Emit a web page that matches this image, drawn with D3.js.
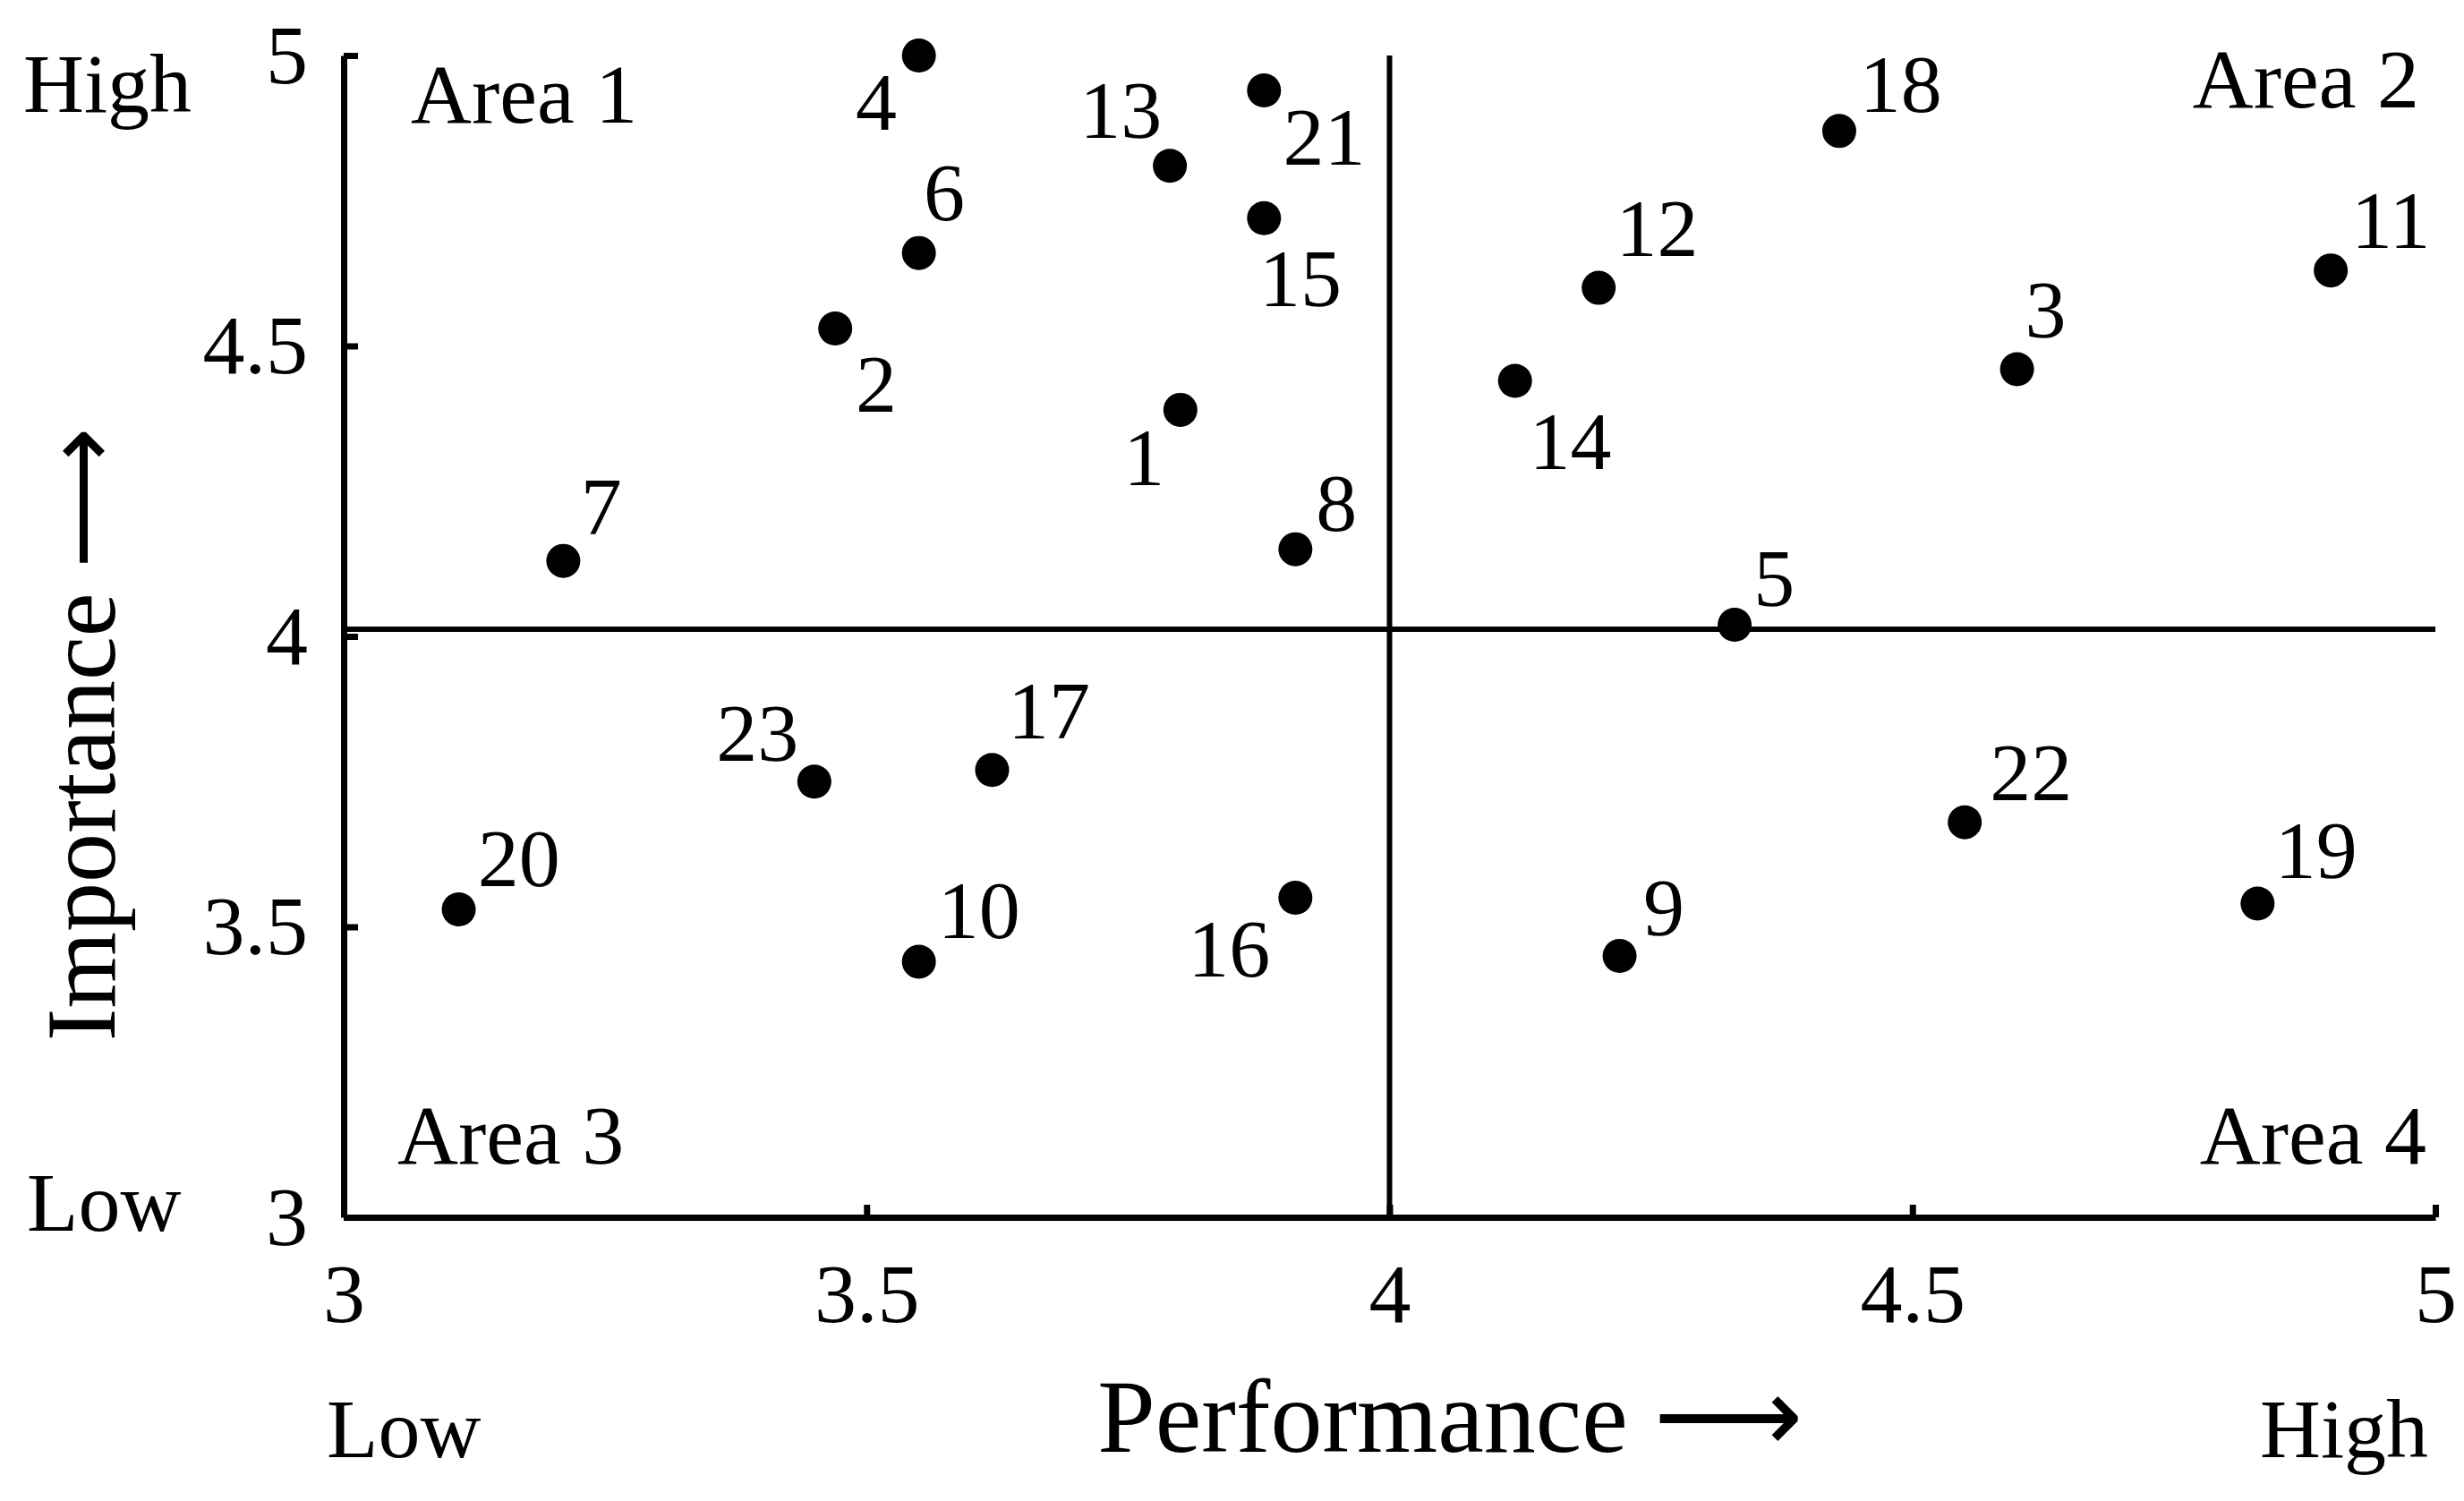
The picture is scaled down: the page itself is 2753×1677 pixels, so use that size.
<!DOCTYPE html>
<html lang="en">
<head>
<meta charset="utf-8">
<title>Importance-Performance</title>
<style>
  body { margin: 0; background: white; }
  svg text { font-family: "Liberation Serif", "Times New Roman", serif; fill: black; }
  .axis path, .axis line { stroke: black; stroke-width: 7; }
  .axis text { font-size: 94px; }
</style>
</head>
<body>
<script src="https://cdnjs.cloudflare.com/ajax/libs/d3/7.8.5/d3.min.js"></script>
<script>
// data
var ids         = ["1","2","3","4","5","6","7","8","9","10","11","12","13","14","15","16","17","18","19","20","21","22","23"];
var performance = [3.80,3.47,4.60,3.55,4.33,3.55,3.21,3.91,4.22,3.55,4.90,4.20,3.79,4.12,3.88,3.91,3.62,4.43,4.83,3.11,3.88,4.55,3.45];
var importance  = [4.39,4.53,4.46,5.00,4.02,4.66,4.13,4.15,3.45,3.44,4.63,4.60,4.81,4.44,4.72,3.55,3.77,4.87,3.54,3.53,4.94,3.68,3.75];
var xTicks = [3, 3.5, 4, 4.5, 5];
var yTicks = [3, 3.5, 4, 4.5, 5];
var areaNames = ["Area 1", "Area 2", "Area 3", "Area 4"];

// label placement (dx, dy, anchor) in reference units
var labelPlace = {
  "1":[-10,48,"end"], "2":[13,53,"start"], "3":[5,-20,"start"], "4":[-14,47,"end"],
  "5":[12,-12,"start"], "6":[3,-21,"start"], "7":[11,-17,"start"], "8":[13,-12,"start"],
  "9":[15,-13,"start"], "10":[12,-15,"start"], "11":[13,-14,"start"], "12":[11,-20,"start"],
  "13":[-5,-18,"end"], "14":[9,56,"start"], "15":[-3,56,"start"], "16":[-16,50,"end"],
  "17":[10,-20,"start"], "18":[13,-12,"start"], "19":[11,-16,"start"], "20":[12,-15,"start"],
  "21":[12,47,"start"], "22":[16,-14,"start"], "23":[-10,-13,"end"]
};

var k = 1.761;
var fullwidth = 2753, fullheight = 1677;
var margin = { top: 62, right: 32, bottom: 317, left: 384 };
var width = fullwidth - margin.left - margin.right;
var height = fullheight - margin.top - margin.bottom;

var svg = d3.select("body").append("svg")
    .attr("width", fullwidth).attr("height", fullheight)
  .append("g")
    .attr("transform", "translate(" + margin.left + "," + margin.top + ")");

var xScale = d3.scaleLinear().domain([3, 5]).range([0, width]);
var yScale = d3.scaleLinear().domain([3, 5]).range([height, 0]);

var xAxis = d3.axisBottom(xScale).tickValues(xTicks).tickFormat(d3.format("")).tickSizeInner(-14).tickSizeOuter(0).tickPadding(50);
var yAxis = d3.axisLeft(yScale).tickValues(yTicks).tickFormat(d3.format("")).tickSizeInner(-16).tickSizeOuter(0).tickPadding(40);

svg.append("g").attr("class", "x axis")
    .attr("transform", "translate(0," + height + ")").call(xAxis);
svg.append("g").attr("class", "y axis").call(yAxis);

// quadrant lines
svg.append("line").attr("x1", xScale(4)).attr("x2", xScale(4))
    .attr("y1", 0).attr("y2", height).attr("stroke", "black").attr("stroke-width", 6);
svg.append("line").attr("x1", 0).attr("x2", width)
    .attr("y1", yScale(4) - 8).attr("y2", yScale(4) - 8).attr("stroke", "black").attr("stroke-width", 6);

// area labels
var areaFont = 94;
svg.append("text").attr("x", 75).attr("y", 75).attr("font-size", areaFont).text(areaNames[0]);
svg.append("text").attr("x", width - 18).attr("y", 58).attr("font-size", areaFont).attr("text-anchor", "end").text(areaNames[1]);
svg.append("text").attr("x", 60).attr("y", height - 60).attr("font-size", areaFont).text(areaNames[2]);
svg.append("text").attr("x", width - 10).attr("y", height - 60).attr("font-size", areaFont).attr("text-anchor", "end").text(areaNames[3]);

// points
var points = ids.map(function(id, i) { return { id: id, x: performance[i], y: importance[i] }; });

svg.selectAll("circle").data(points).enter().append("circle")
    .attr("cx", function(d) { return xScale(d.x); })
    .attr("cy", function(d) { return yScale(d.y); })
    .attr("r", 19).attr("fill", "black");

svg.selectAll("text.dotlabel").data(points).enter().append("text")
    .attr("class", "dotlabel")
    .attr("font-size", 92)
    .attr("x", function(d) { return xScale(d.x) + labelPlace[d.id][0] * k; })
    .attr("y", function(d) { return yScale(d.y) + labelPlace[d.id][1] * k; })
    .attr("text-anchor", function(d) { return labelPlace[d.id][2]; })
    .text(function(d) { return d.id; });

// Low / High and axis titles
var root = d3.select("svg");
root.append("text").attr("x", 26).attr("y", 125).attr("font-size", 94).text("High");
root.append("text").attr("x", 30).attr("y", 1375).attr("font-size", 94).text("Low");
root.append("text").attr("x", 365).attr("y", 1628).attr("font-size", 94).text("Low");
root.append("text").attr("x", 2713).attr("y", 1628).attr("font-size", 94).attr("text-anchor", "end").text("High");
root.append("text").attr("x", 1620).attr("y", 1622).attr("font-size", 116).attr("text-anchor", "middle").text("Performance ⟶");
root.append("text").attr("transform", "translate(128,820) rotate(-90)")
    .attr("font-size", 110).attr("text-anchor", "middle").text("Importance ⟶");
</script>
</body>
</html>
